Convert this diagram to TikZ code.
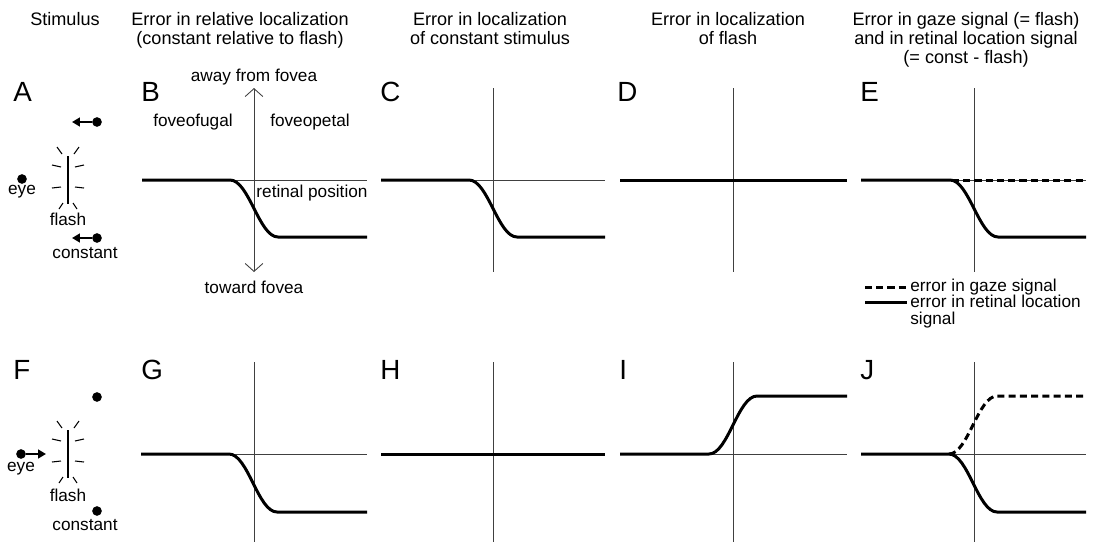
\documentclass[tikz,border=0pt]{standalone}
\usepackage{fontspec}
\setmainfont{Liberation Sans}
\usetikzlibrary{arrows.meta}
\tikzset{
  hdr/.style   = {anchor=north, align=center, inner sep=0pt,
                  font=\fontsize{10.3}{10.8}\selectfont},
  lbl/.style   = {inner sep=0pt, font=\fontsize{9.8}{10.2}\selectfont},
  panel/.style = {anchor=base west, inner sep=0pt, font=\fontsize{15.8}{16}\selectfont},
  axis/.style  = {line width=0.5pt, black!75},
  err/.style   = {line width=1.7pt},
  gaze/.style  = {line width=1.7pt, dash pattern=on 4pt off 2.4pt},
  ray/.style   = {line width=0.6pt},
  bar/.style   = {line width=1.7pt},
  move/.style  = {-{Triangle[length=4.5pt,width=5pt]}, line width=1.1pt},
  dot/.style   = {circle, fill, inner sep=0pt, minimum size=5.5pt},
  barb/.style  = {{Straight Barb[length=4.5pt,width=10pt]}-{Straight Barb[length=4.5pt,width=10pt]}},
}
\begin{document}
\begin{tikzpicture}[x=0.02cm, y=-0.02cm]
  \useasboundingbox (0,0) rectangle (1093,542);

  % column headings
  \node[hdr] (hs) at (65,12)  {Stimulus};
  \node[hdr] (hb) at (240,12) {Error in relative localization\\(constant relative to flash)};
  \node[hdr] (hc) at (490,12) {Error in localization\\of constant stimulus};
  \node[hdr] (hd) at (728,12) {Error in localization\\of flash};
  \node[hdr] (he) at (966,12) {Error in gaze signal (= flash)\\and in retinal location signal\\(= const - flash)};

  % panel letters
  \foreach \n/\x in {A/13,B/141,C/380,D/617,E/860}
    \node[panel] (p\n) at (\x,101) {\n};
  \foreach \n/\x in {F/13,G/141,H/380,I/619,J/860}
    \node[panel] (p\n) at (\x,379) {\n};

  % stimulus, top row
  \node[dot] (eyea) at (22,179) {};
  \node[lbl] (eyela) at (22,192) {eye};
  \draw[bar] (68,156) -- (68,204);
  \foreach \ia/\ib/\oa/\ob in {6/-26/11/-33, 7/-13/16/-15, 7/7/16/8, 5/23/9/29} {
    \draw[ray] (68+\ia,180+\ib) -- (68+\oa,180+\ob);
    \draw[ray] (68-\ia,180+\ib) -- (68-\oa,180+\ob);
  }
  \node[lbl] (fla) at (68,219) {flash};
  \node[dot] (upa) at (97,122) {};
  \coordinate (upat) at (72,122);
  \draw[move] (upa) -- (upat);
  \node[dot] (cna) at (97,238) {};
  \coordinate (cnat) at (72,238);
  \draw[move] (cna) -- (cnat);
  \node[lbl] (cnla) at (85,253) {constant};

  % stimulus, bottom row
  \node[dot] (eyef) at (21,454) {};
  \coordinate (eyeft) at (46,454);
  \draw[move] (eyef) -- (eyeft);
  \node[lbl] (eyelf) at (21,469) {eye};
  \draw[bar] (68,430) -- (68,478);
  \foreach \ia/\ib/\oa/\ob in {6/-26/11/-33, 7/-13/16/-15, 7/7/16/8, 5/23/9/29} {
    \draw[ray] (68+\ia,454+\ib) -- (68+\oa,454+\ob);
    \draw[ray] (68-\ia,454+\ib) -- (68-\oa,454+\ob);
  }
  \node[lbl] (flf) at (68,495) {flash};
  \node[dot] (upf) at (97,397) {};
  \node[dot] (cnf) at (97,511) {};
  \node[lbl] (cnlf) at (85,525) {constant};

  % axes
  \draw[axis, barb] (254,88) -- (254,272);
  \foreach \l/\a/\r in {142/254/367, 381/493/605, 620/733/847, 861/974/1086} {
    \draw[axis] (\l,180) -- (\r,180);
    \draw[axis] (\l,454) -- (\r,454);
    \draw[axis] (\a,362) -- (\a,542);
  }
  \foreach \a in {493,733,974}
    \draw[axis] (\a,88) -- (\a,272);

  % axis labels in B
  \node[lbl] (away) at (254,77)  {away from fovea};
  \node[lbl] (fug)  at (193,122) {foveofugal};
  \node[lbl] (pet)  at (310,122) {foveopetal};
  \node[lbl] (ret)  at (312,193) {retinal position};
  \node[lbl] (tow)  at (254,287) {toward fovea};

  % top row curves
  \draw[err] (142,180) -- (230,180) .. controls (249,180) and (259,237) .. (278,237) -- (367,237);
  \draw[err] (381,180) -- (469,180) .. controls (488,180) and (498,237) .. (517,237) -- (605,237);
  \draw[err] (620,180) -- (847,180);
  \draw[err] (861,180) -- (950,180) .. controls (969,180) and (979,237) .. (998,237) -- (1086,237);
  \draw[gaze] (952,180) -- (1086,180);

  % legend
  \draw[gaze] (865,287) -- (907,287);
  \node[lbl, anchor=west] (lg) at (910,287) {error in gaze signal};
  \draw[err] (865,302) -- (907,302);
  \node[lbl, anchor=north west, align=left] (lr) at (910,295) {error in retinal location\\[-0.5pt]signal};

  % bottom row curves
  \draw[err] (141,454) -- (229,454) .. controls (248,454) and (258,512) .. (277,512) -- (367,512);
  \draw[err] (381,454) -- (605,454);
  \draw[err] (620,454) -- (709,454) .. controls (728,454) and (738,396) .. (757,396) -- (847,396);
  \draw[err] (861,454) -- (949,454) .. controls (968,454) and (978,512) .. (997,512) -- (1086,512);
  \draw[gaze] (949,454) .. controls (968,454) and (978,396) .. (997,396) -- (1086,396);
\end{tikzpicture}
\end{document}
